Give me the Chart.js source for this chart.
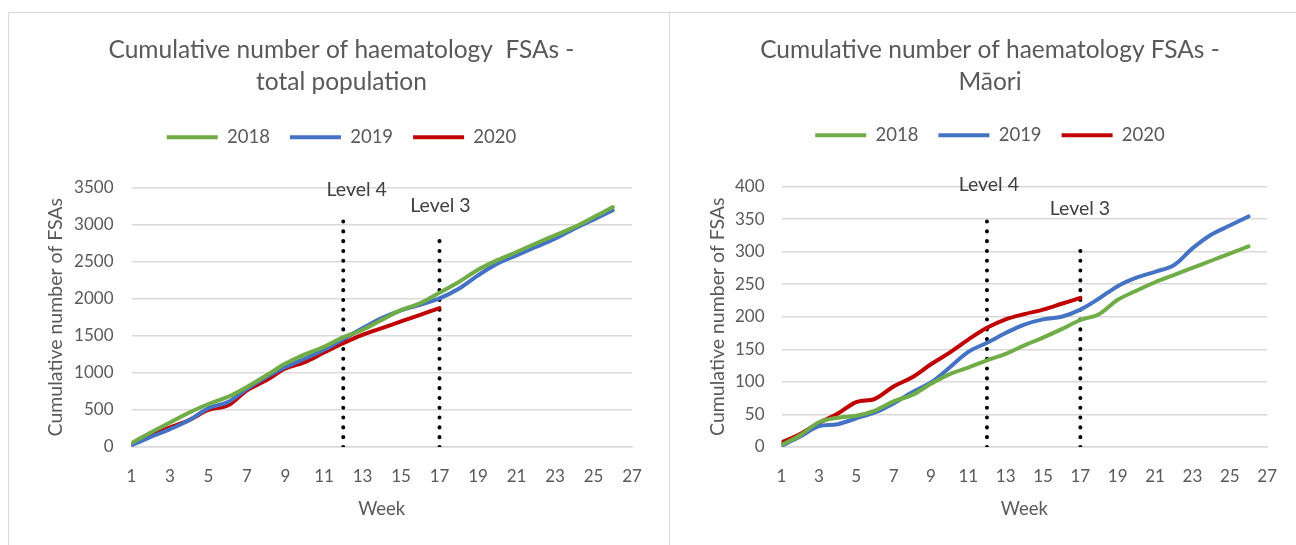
<!DOCTYPE html>
<html>
<head>
<meta charset="utf-8">
<script src="https://cdn.jsdelivr.net/npm/chart.js@4.4.0/dist/chart.umd.min.js"></script>
<style>
    body { margin: 0; background: #fff; width: 1296px; height: 545px; overflow: hidden; position: relative; }
    .panel { position: absolute; top: 12px; border-top: 1px solid #d9d9d9; border-left: 1px solid #d9d9d9; background: #fff; }
    #p1 { left: 8px; width: 661px; height: 532px; }
    #p2 { left: 669px; width: 627px; height: 532px; }
    canvas { display: block; }
</style>
</head>
<body>
<div class="panel" id="p1"><canvas id="c1" width="661" height="532"></canvas></div>
<div class="panel" id="p2"><canvas id="c2" width="626" height="532"></canvas></div>
<script>
// ============================
// DATOS
// ============================

const semanas = [1, 2, 3, 4, 5, 6, 7, 8, 9, 10, 11, 12, 13, 14, 15, 16, 17, 18, 19, 20, 21, 22, 23, 24, 25, 26];
const etiquetasSemana = [1, 3, 5, 7, 9, 11, 13, 15, 17, 19, 21, 23, 25, 27];
const anios = ["2018", "2019", "2020"];

// total population
const total2018 = [55, 195, 330, 465, 580, 675, 810, 965, 1125, 1250, 1350, 1482, 1580, 1715, 1845, 1940, 2080, 2225, 2390, 2520, 2630, 2745, 2855, 2965, 3100, 3235];
const total2019 = [25, 135, 240, 360, 525, 605, 785, 945, 1080, 1190, 1311, 1455, 1600, 1738, 1842, 1918, 2004, 2135, 2315, 2473, 2585, 2698, 2810, 2945, 3067, 3193];
const total2020 = [36, 150, 264, 364, 500, 559, 764, 900, 1059, 1145, 1275, 1401, 1513, 1603, 1693, 1783, 1873];

// Māori
const maori2018 = [3, 18, 38, 45, 48, 56, 70, 80, 97, 112, 122, 133, 143, 156, 168, 181, 195, 204, 226, 240, 253, 264, 275, 286, 297, 308];
const maori2019 = [2, 16, 32, 35, 44, 53, 67, 84, 99, 122, 146, 160, 175, 188, 196, 200, 211, 228, 247, 260, 269, 279, 305, 326, 340, 354];
const maori2020 = [7, 20, 37, 51, 69, 74, 93, 107, 127, 145, 165, 183, 196, 204, 211, 220, 229];

// alert levels: week and top of the dotted line
const nivelSemanas = [12, 17];
const nivelNombres = ["Level 4", "Level 3"];
const nivelTopeTotal = [3160, 2880];
const nivelTopeMaori = [358, 313];

const colores = ["#70ad47", "#4472c4", "#c00000"];
const gris = "#595959";
const fuente = "Lato, 'Open Sans', sans-serif";


// ============================
// PLUGIN ETIQUETAS
// ============================

const etiquetasNivel = {
    id: "etiquetasNivel",
    afterDatasetsDraw(chart, args, opts) {
        const { ctx, scales: { x, y } } = chart;
        ctx.save();
        ctx.font = "19.5px " + fuente;
        ctx.fillStyle = "#404040";
        ctx.textAlign = "center";
        ctx.textBaseline = "middle";
        opts.items.forEach(e => {
            ctx.fillText(e.texto, x.getPixelForValue(e.x), y.getPixelForValue(e.y));
        });
        ctx.restore();
    }
};


// ============================
// GRÁFICA
// ============================

function serie(valores) {
    return valores.map((v, i) => ({ x: semanas[i], y: v }));
}

function crearGrafica(id, c) {

    const datasets = c.series.map((valores, i) => ({
        label: anios[i],
        data: serie(valores),
        borderColor: colores[i],
        backgroundColor: colores[i],
        borderWidth: 4,
        borderCapStyle: "round",
        pointRadius: 0,
        tension: 0.35,
        fill: false
    }));

    nivelSemanas.forEach((s, i) => {
        datasets.push({
            label: nivelNombres[i],
            data: [{ x: s, y: 0 }, { x: s, y: c.topes[i] }],
            borderColor: "#000",
            borderWidth: 4,
            borderDash: [0.1, 9.7],
            borderCapStyle: "round",
            pointRadius: 0,
            tension: 0,
            fill: false
        });
    });

    return new Chart(document.getElementById(id), {
        type: "line",
        data: { datasets },
        plugins: [etiquetasNivel],
        options: {
            responsive: false,
            animation: false,
            layout: { padding: { left: c.izquierda, right: 0, top: 0, bottom: 0 } },
            plugins: {
                title: {
                    display: true,
                    text: c.titulo,
                    color: gris,
                    font: { family: fuente, size: 24.5, weight: "normal", lineHeight: 32 / 24.5 },
                    padding: { top: 21, bottom: c.tituloAbajo }
                },
                subtitle: {
                    display: true,
                    text: " ",
                    weight: 100,
                    font: { size: 1, lineHeight: 1 },
                    padding: { top: 0, bottom: c.hueco }
                },
                legend: {
                    labels: {
                        usePointStyle: true,
                        pointStyle: "line",
                        pointStyleWidth: 51,
                        padding: 20,
                        color: gris,
                        font: { family: fuente, size: 18.5 },
                        filter: item => item.datasetIndex < 3
                    }
                },
                tooltip: { enabled: false },
                etiquetasNivel: { items: c.etiquetas }
            },
            scales: {
                x: {
                    type: "linear",
                    min: 1,
                    max: 27,
                    afterBuildTicks: s => { s.ticks = etiquetasSemana.map(v => ({ value: v })); },
                    afterFit: s => { s.height = 98; },
                    grid: { display: false, drawTicks: false },
                    border: { display: true, color: "#d9d9d9", width: 1.5 },
                    ticks: { color: gris, padding: 19, font: { family: fuente, size: 17 } },
                    title: {
                        display: true,
                        text: "Week",
                        color: gris,
                        font: { family: fuente, size: 18.5 },
                        padding: { top: 0, bottom: 25 }
                    }
                },
                y: {
                    min: 0,
                    max: c.maxY,
                    ticks: {
                        stepSize: c.paso,
                        color: gris,
                        padding: c.padTick,
                        font: { family: fuente, size: 17 },
                        callback: v => String(v)
                    },
                    afterFit: s => { s.width = c.anchoY; },
                    grid: { color: "#d9d9d9", lineWidth: 1.5, drawTicks: false },
                    border: { display: false },
                    title: {
                        display: true,
                        text: "Cumulative number of FSAs",
                        color: gris,
                        font: { family: fuente, size: 19.5 },
                        padding: { top: c.padTitY, bottom: 0 }
                    }
                },
                // empty scale that keeps the right margin without moving the title
                margen: {
                    position: "right",
                    display: true,
                    ticks: { display: false },
                    grid: { display: false, drawTicks: false },
                    border: { display: false },
                    afterFit: s => { s.width = c.derecha; }
                }
            }
        }
    });
}

crearGrafica("c1", {
    titulo: ["Cumulative number of haematology  FSAs -", "total population"],
    series: [total2018, total2019, total2020],
    topes: nivelTopeTotal,
    maxY: 3500,
    paso: 500,
    izquierda: 4,
    anchoY: 118.5,
    padTick: 18,
    padTitY: 31,
    derecha: 38,
    tituloAbajo: 10,
    hueco: 30,
    etiquetas: [
        { texto: nivelNombres[0], x: 12.7, y: 3470 },
        { texto: nivelNombres[1], x: 17.05, y: 3255 }
    ]
});

crearGrafica("c2", {
    titulo: ["Cumulative number of haematology FSAs -", "Māori"],
    series: [maori2018, maori2019, maori2020],
    topes: nivelTopeMaori,
    maxY: 400,
    paso: 50,
    izquierda: 14,
    anchoY: 97.5,
    padTick: 17,
    padTitY: 22,
    derecha: 26,
    tituloAbajo: 8,
    hueco: 31,
    etiquetas: [
        { texto: nivelNombres[0], x: 12.1, y: 403 },
        { texto: nivelNombres[1], x: 16.98, y: 366 }
    ]
});
</script>
</body>
</html>
